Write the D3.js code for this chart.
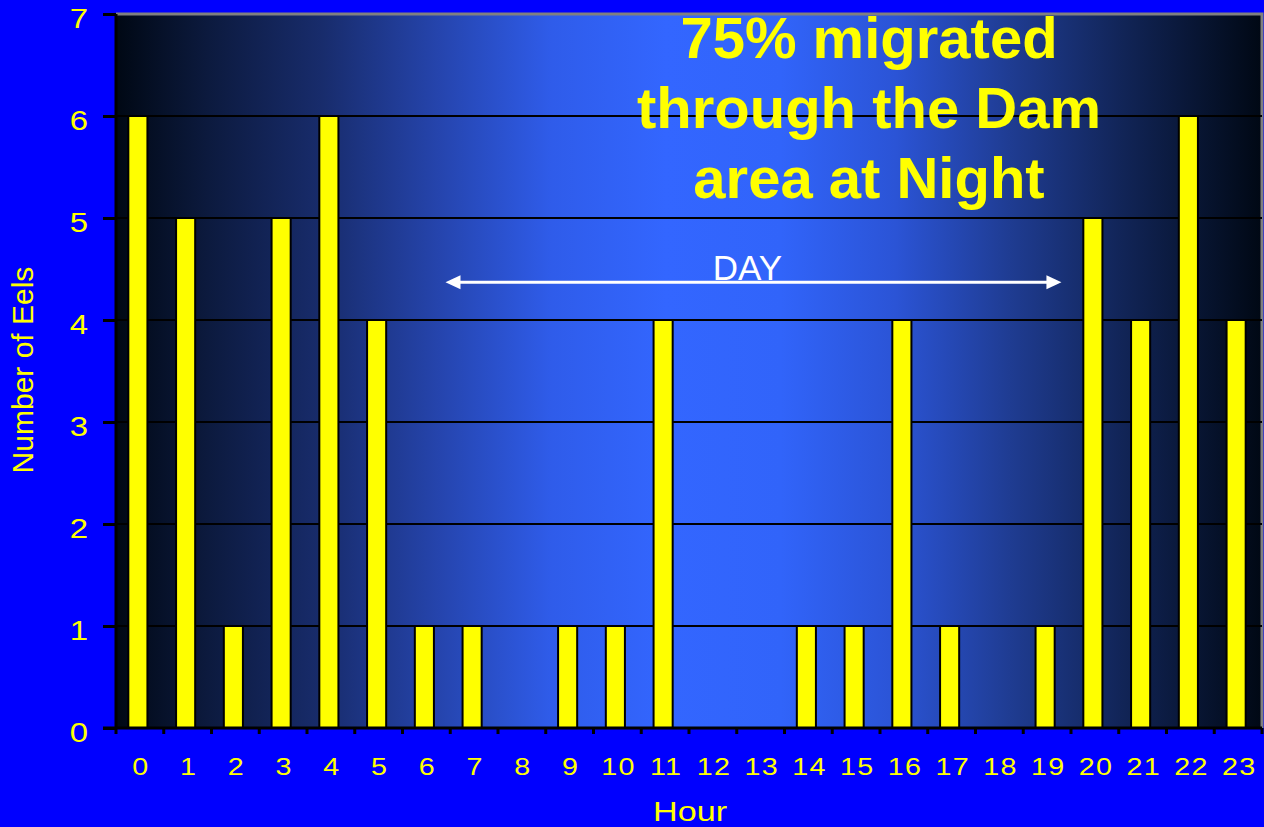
<!DOCTYPE html>
<html>
<head>
<meta charset="utf-8">
<script src="https://cdn.jsdelivr.net/npm/d3@7"></script>
<style>
  html, body { margin: 0; padding: 0; background: #0000ff; }
  svg { display: block; }
  text { font-family: "Liberation Sans", Arial, sans-serif; }
</style>
</head>
<body>
<svg id="chart" width="1264" height="827"></svg>
<script>
// Eel passage counts by hour of day
const hours = ["0","1","2","3","4","5","6","7","8","9","10","11","12","13","14","15","16","17","18","19","20","21","22","23"];
const eelCounts = [6,5,1,5,6,4,1,1,0,1,1,4,0,0,1,1,4,1,0,1,5,4,6,4];
const yTicks = [0,1,2,3,4,5,6,7];
const titleLines = ["75% migrated", "through the Dam", "area at Night"];
const dayRange = [6.9, 19.8]; // hours spanned by the DAY arrow
const dayLevel = 4.37;        // vertical position of the arrow, in eel units

const W = 1264, H = 827;
const margin = { left: 116, right: 2, top: 14, bottom: 99 };
const plotW = W - margin.left - margin.right;
const plotH = H - margin.top - margin.bottom;
const wide = "scale(1.22,1)"; // the chart's labels use a widened face

const svg = d3.select("#chart");

// Plot-area gradient: dark edges, bright blue centre
const defs = svg.append("defs");
const grad = defs.append("linearGradient").attr("id", "plotBg")
  .attr("x1", "0%").attr("x2", "100%").attr("y1", "0%").attr("y2", "0%");
[
  [0, "#000814"], [0.08, "#0c1a3e"], [0.18, "#182c6c"], [0.28, "#2544ac"],
  [0.38, "#2f5cea"], [0.48, "#3366ff"], [0.58, "#3164fa"], [0.68, "#2b54d6"],
  [0.78, "#1f3c92"], [0.88, "#112456"], [1, "#000814"]
].forEach(([o, c]) => grad.append("stop").attr("offset", o).attr("stop-color", c));

const x = d3.scaleBand().domain(hours).range([0, plotW]).padding(0);
const y = d3.scaleLinear().domain([0, 7]).range([plotH, 0]);
const xLin = d3.scaleLinear().domain([0, 24]).range([0, plotW]);

const g = svg.append("g").attr("transform", `translate(${margin.left},${margin.top})`);

g.append("rect").attr("width", plotW).attr("height", plotH).attr("fill", "url(#plotBg)");

// Top and right border
g.append("path")
  .attr("d", `M0,0H${plotW}V${plotH}`)
  .attr("fill", "none").attr("stroke", "#808080").attr("stroke-width", 3);

// Horizontal gridlines
g.selectAll("line.grid").data(yTicks.filter(v => v > 0 && v < 7)).join("line")
  .attr("class", "grid")
  .attr("x1", 0).attr("x2", plotW)
  .attr("y1", d => y(d)).attr("y2", d => y(d))
  .attr("stroke", "#000").attr("stroke-width", 2);

// Bars
const barW = x.bandwidth() * 0.4;
g.selectAll("rect.bar").data(eelCounts).join("rect")
  .attr("class", "bar")
  .attr("x", (d, i) => x(hours[i]) + (x.bandwidth() - barW) / 2 - 2)
  .attr("y", d => y(d))
  .attr("width", barW)
  .attr("height", d => y(0) - y(d))
  .attr("fill", "#ffff00")
  .attr("stroke", "#000").attr("stroke-width", 2);

// Y axis line and ticks
const yAxis = g.append("g").call(
  d3.axisLeft(y).tickValues(yTicks).tickSize(13).tickFormat("")
);
yAxis.select(".domain").attr("stroke", "#000").attr("stroke-width", 3).attr("d", `M0,${plotH}V0`);
yAxis.selectAll(".tick line").attr("stroke", "#000").attr("stroke-width", 3);

// Y tick labels
g.selectAll("text.yl").data(yTicks).join("text")
  .attr("class", "yl")
  .attr("transform", d => `translate(-28,${y(d) + 14}) ${wide}`)
  .attr("text-anchor", "end")
  .attr("fill", "#ffff00").attr("font-size", 27)
  .text(d => d);

// X axis: ticks at hour band edges, labels at band centres
const xAxisG = g.append("g").attr("transform", `translate(0,${plotH})`);
xAxisG.append("line").attr("x1", -13).attr("x2", plotW)
  .attr("stroke", "#000").attr("stroke-width", 3);
xAxisG.selectAll("line.xt").data(d3.range(0, 25)).join("line")
  .attr("class", "xt")
  .attr("x1", d => xLin(d)).attr("x2", d => xLin(d))
  .attr("y1", 0).attr("y2", 6)
  .attr("stroke", "#000").attr("stroke-width", 3);
xAxisG.selectAll("text.xl").data(hours).join("text")
  .attr("class", "xl")
  .attr("transform", d => `translate(${x(d) + x.bandwidth() / 2 + 1},47) ${wide}`)
  .attr("text-anchor", "middle")
  .attr("fill", "#ffff00").attr("font-size", 23.5)
  .attr("letter-spacing", "1px")
  .text(d => d);

// Axis titles
svg.append("text")
  .attr("transform", `translate(33,370) rotate(-90)`)
  .attr("text-anchor", "middle")
  .attr("fill", "#ffff00").attr("font-size", 30)
  .text("Number of Eels");
svg.append("text")
  .attr("transform", `translate(${margin.left + plotW / 2 + 1},821) ${wide}`)
  .attr("text-anchor", "middle")
  .attr("fill", "#ffff00").attr("font-size", 28)
  .text("Hour");

// DAY span arrow
const arrowY = y(dayLevel);
const ax1 = xLin(dayRange[0]), ax2 = xLin(dayRange[1]);
const head = 15, half = 7;
g.append("line")
  .attr("x1", ax1 + head - 2).attr("x2", ax2 - head + 2)
  .attr("y1", arrowY).attr("y2", arrowY)
  .attr("stroke", "#fff").attr("stroke-width", 3);
g.append("path")
  .attr("d", `M${ax1},${arrowY}L${ax1 + head},${arrowY - half}L${ax1 + head},${arrowY + half}Z`)
  .attr("fill", "#fff");
g.append("path")
  .attr("d", `M${ax2},${arrowY}L${ax2 - head},${arrowY - half}L${ax2 - head},${arrowY + half}Z`)
  .attr("fill", "#fff");
g.append("text")
  .attr("x", (ax1 + ax2) / 2 - 6).attr("y", arrowY - 2)
  .attr("text-anchor", "middle")
  .attr("fill", "#fff").attr("font-size", 35)
  .text("DAY");

// Headline annotation
svg.append("text")
  .attr("x", 869).attr("y", 58)
  .attr("text-anchor", "middle")
  .attr("fill", "#ffff00").attr("font-size", 58).attr("font-weight", "bold")
  .selectAll("tspan").data(titleLines).join("tspan")
  .attr("x", 869).attr("dy", (d, i) => i === 0 ? 0 : 70)
  .text(d => d);
</script>
</body>
</html>
